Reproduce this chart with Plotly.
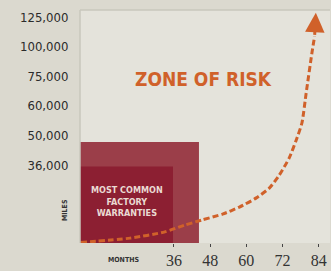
import plotly.graph_objects as go

# ---- data ----
month_ticks = [36, 48, 60, 72, 84]
mile_labels = ["36,000", "50,000", "60,000", "75,000", "100,000", "125,000"]
mile_slots = [0, 1, 2, 3, 4, 5]  # evenly spaced slots used by the original graphic

# risk curve (months, mile slot)
curve_months = [5.1, 21.5, 33.0, 39.6, 45.2, 52.1, 57.7, 63.3, 67.6, 70.9, 74.2, 76.5, 78.4, 79.8, 81.7, 82.6]
curve_slots = [-2.62, -2.47, -2.26, -2.03, -1.86, -1.66, -1.42, -1.11, -0.78, -0.34, 0.24, 0.84, 1.42, 2.43, 3.78, 4.35]
arrow_tip = (83.0, 5.15)

# warranty boxes: (right edge in months, top in mile slots)
warranty_outer = (44.3, 0.78)
warranty_inner = (35.7, -0.05)

x_range = [4.9, 87.7]
y_range = [-2.635, 5.24]

orange = "#d0612a"
cond = "DejaVu Sans Condensed"

fig = go.Figure()

fig.add_shape(type="rect", x0=x_range[0], x1=warranty_outer[0], y0=y_range[0], y1=warranty_outer[1],
              fillcolor="#9b3e49", line_width=0, layer="below")
fig.add_shape(type="rect", x0=x_range[0], x1=warranty_inner[0], y0=y_range[0], y1=warranty_inner[1],
              fillcolor="#8c1f32", line_width=0, layer="below")

fig.add_trace(go.Scatter(x=curve_months, y=curve_slots, mode="lines",
                         line=dict(color=orange, width=3, dash="6px,3px", shape="spline", smoothing=0.6),
                         hoverinfo="skip", showlegend=False))

fig.add_annotation(x=arrow_tip[0], y=arrow_tip[1], ax=curve_months[-1], ay=curve_slots[-1],
                   xref="x", yref="y", axref="x", ayref="y", text="", showarrow=True,
                   arrowhead=2, arrowsize=1.3, arrowwidth=3, arrowcolor=orange)

fig.add_annotation(x=(x_range[0] + x_range[1]) / 2 - 0.6, y=2.9, xref="x", yref="y",
                   text="<b>ZONE OF RISK</b>", showarrow=False,
                   font=dict(family=cond, size=19, color=orange))

fig.add_annotation(x=(x_range[0] + warranty_inner[0]) / 2 + 0.3, y=-1.22, xref="x", yref="y",
                   text="<b>MOST COMMON<br>FACTORY<br>WARRANTIES</b>", showarrow=False,
                   font=dict(family=cond, size=9, color="#eadad2"))

fig.add_annotation(x=65, y=210, xref="paper", yref="paper", text="<b>MILES</b>", textangle=-90,
                   xanchor="center", yanchor="middle",
                   showarrow=False, font=dict(family=cond, size=7, color="#333"))
fig.add_annotation(x=123, y=260, xref="paper", yref="paper", text="<b>MONTHS</b>",
                   xanchor="center", yanchor="middle",
                   showarrow=False, font=dict(family=cond, size=7, color="#333"))

# convert paper annotations from pixels
W, H = 331, 271
L, R, T, B = 80, 1, 10, 28
pw, ph = W - L - R, H - T - B
for a in fig.layout.annotations:
    if a.xref == "paper":
        a.x = (a.x - L) / pw
        a.y = (H - B - a.y) / ph

fig.update_layout(
    width=W, height=H,
    margin=dict(l=L, r=R, t=T, b=B),
    paper_bgcolor="#dbd9cf",
    plot_bgcolor="#e4e3db",
    xaxis=dict(range=x_range, tickvals=month_ticks, ticks="outside", ticklen=3, tickcolor="#444",
               showgrid=False, zeroline=False, showline=False, fixedrange=True, automargin=False,
               tickfont=dict(family="Liberation Sans Narrow", size=16, color="#333")),
    yaxis=dict(range=y_range, tickvals=mile_slots, ticktext=mile_labels, ticks="outside",
               ticklen=8, tickcolor="rgba(0,0,0,0)", showgrid=False, zeroline=False,
               showline=False, fixedrange=True, automargin=False,
               tickfont=dict(family=cond, size=13, color="#2b2b2b")),
    shapes=list(fig.layout.shapes) + [
        dict(type="line", xref="paper", yref="paper", x0=0, x1=0, y0=0, y1=1,
             line=dict(color="#c9c7bd", width=1.5)),
        dict(type="line", xref="paper", yref="paper", x0=0, x1=1, y0=1, y1=1,
             line=dict(color="#c9c7bd", width=1.5)),
    ],
)

fig.write_html("out.html", config={"displayModeBar": False},
               post_script="document.body.style.margin='0';document.body.style.overflow='hidden';")
